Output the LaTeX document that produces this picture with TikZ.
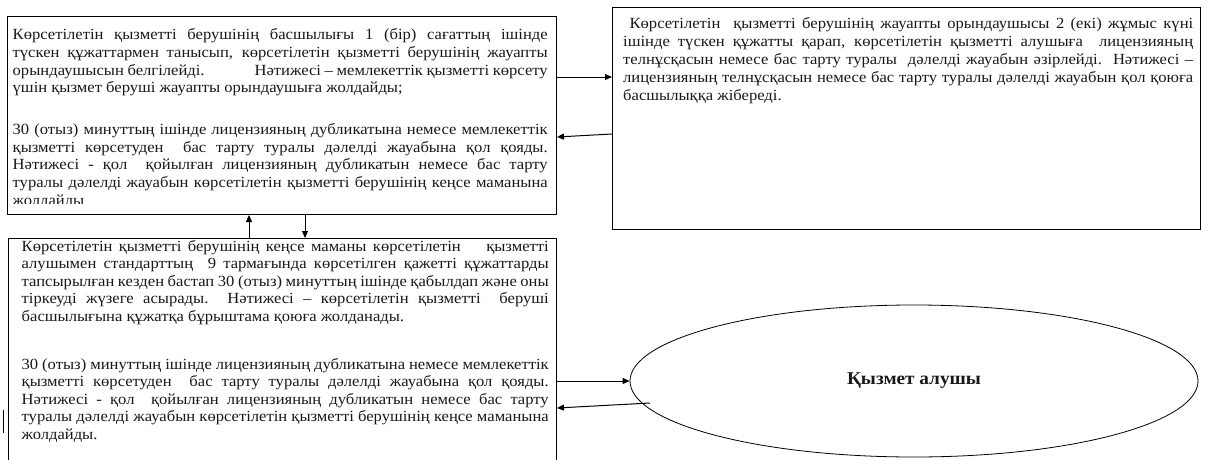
\documentclass[tikz,border=0pt]{standalone}
\usepackage{fontspec}
\usepackage{tikz}
\usetikzlibrary{arrows.meta,shapes.geometric}
\newfontfamily\kzbase{Liberation Serif}
\newlength\kzw
\settowidth\kzw{\kzbase\fontsize{15.5}{17}\selectfont үшін қызмет беруші жауапты орындаушыға жолдайды;}
\pgfmathsetmacro\kzs{390/\kzw}
\edef\kzdef{\noexpand\newfontfamily\noexpand\kz[FakeStretch=\kzs]{Liberation Serif}}
\kzdef
\tikzset{
  box/.style={draw=black, line width=1pt, anchor=north west, inner sep=0pt},
  arr/.style={-{Triangle[length=7pt,width=6pt]}, line width=1pt},
  txt/.style={anchor=base west, inner sep=0pt, text=black!90, font=\kz\fontsize{15.5}{17}\selectfont},
  lbl/.style={text=black!90, font=\kz\bfseries\fontsize{18}{20}\selectfont},
}
\newcommand\kzj[4]{\node[txt] (#1) at (#2) {\makebox[#3][s]{#4}};}
\newcommand\kzl[3]{\node[txt] (#1) at (#2) {#3};}
\begin{document}
\begin{tikzpicture}[x=1pt,y=-1pt]
\useasboundingbox (0,0) rectangle (1209,460);
% boxes
\node[box, minimum width=549pt, minimum height=198pt] (b1) at (7,16) {};
\node[box, minimum width=588pt, minimum height=222pt] (b2) at (612,7) {};
\node[box, minimum width=548pt, minimum height=240pt] (b3) at (8,238) {};
\node[draw=black, line width=0.8pt, ellipse, minimum width=568pt, minimum height=152pt, inner sep=0pt] (ell) at (914,381) {};
\node[lbl] (elltext) at (ell.center) {Қызмет алушы};
% box 1 text
\begin{scope}
\clip (7,16) rectangle (556,203);
\kzj{a1}{12.5,40}{535pt}{Көрсетілетін қызметті берушінің басшылығы 1 (бір) сағаттың ішінде}
\kzj{a2}{12.5,57.5}{535pt}{түскен құжаттармен танысып, көрсетілетін қызметті берушінің жауапты}
\kzj{a3}{12.5,75}{535pt}{орындаушысын белгілейді.\hspace{50pt}Нәтижесі – мемлекеттік қызметті көрсету}
\kzl{a4}{12.5,92.5}{үшін қызмет беруші жауапты орындаушыға жолдайды;}
\kzj{a5}{12.5,134.5}{535pt}{30 (отыз) минуттың ішінде лицензияның дубликатына немесе мемлекеттік}
\kzj{a6}{12.5,152}{535pt}{қызметті көрсетуден\ \ бас тарту туралы дәлелді жауабына қол қояды.}
\kzj{a7}{12.5,169.5}{535pt}{Нәтижесі - қол\ \ қойылған лицензияның дубликатын немесе бас тарту}
\kzj{a8}{12.5,187}{535pt}{туралы дәлелді жауабын көрсетілетін қызметті берушінің кеңсе маманына}
\kzl{a9}{12.5,205}{жолдайды}
\end{scope}
% box 2 text
\kzj{c1}{623,28.5}{570pt}{\ Көрсетілетін\ \ қызметті берушінің жауапты орындаушысы 2 (екі) жұмыс күні}
\kzj{c2}{623,46.5}{570pt}{ішінде түскен құжатты қарап, көрсетілетін қызметті алушыға\ \ лицензияның}
\kzj{c3}{623,64.5}{570pt}{телнұсқасын немесе бас тарту туралы\ \ дәлелді жауабын әзірлейді.\ \ Нәтижесі –}
\kzj{c4}{623,82.5}{570pt}{лицензияның телнұсқасын немесе бас тарту туралы дәлелді жауабын қол қоюға}
\kzl{c5}{623,100.5}{басшылыққа жібереді.}
% box 3 text
\kzj{d1}{21.5,251}{527pt}{Көрсетілетін қызметті берушінің кеңсе маманы көрсетілетін\ \ \ \ қызметті}
\kzj{d2}{21.5,268.5}{527pt}{алушымен стандарттың\ \ 9 тармағында көрсетілген қажетті құжаттарды}
\kzj{d3}{21.5,286}{527pt}{тапсырылған кезден бастап 30 (отыз) минуттың ішінде қабылдап және оны}
\kzj{d4}{21.5,303.5}{527pt}{тіркеуді жүзеге асырады.\ \ Нәтижесі – көрсетілетін қызметті\ \ беруші}
\kzl{d5}{21.5,321}{басшылығына құжатқа бұрыштама қоюға жолданады.}
\kzj{d6}{21.5,369}{527pt}{30 (отыз) минуттың ішінде лицензияның дубликатына немесе мемлекеттік}
\kzj{d7}{21.5,386.5}{527pt}{қызметті көрсетуден\ \ бас тарту туралы дәлелді жауабына қол қояды.}
\kzj{d8}{21.5,404}{527pt}{Нәтижесі - қол\ \ қойылған лицензияның дубликатын немесе бас тарту}
\kzj{d9}{21.5,421.5}{527pt}{туралы дәлелді жауабын көрсетілетін қызметті берушінің кеңсе маманына}
\kzl{d10}{21.5,439}{жолдайды.}
% helper coordinates
\coordinate (y1) at (0,77);
\coordinate (y2s) at (0,134);
\coordinate (y2e) at (0,137);
\coordinate (xu) at (249,0);
\coordinate (xd) at (305,0);
\coordinate (fs) at (650,403);
\coordinate (y6) at (0,408);
% connectors
\draw[arr] (b1.east |- y1) -- (b2.west |- y1);
\draw[arr] (b2.west |- y2s) -- (b1.east |- y2e);
\draw[arr] (xu |- b3.north) -- (xu |- b1.south);
\draw[arr] (xd |- b1.south) -- (xd |- b3.north);
\draw[arr] (b3.east |- ell.west) -- (ell.west);
\draw[arr] (fs) -- (b3.east |- y6);
% stray mark
\coordinate (m1) at (3,410);
\coordinate (m2) at (3,433);
\draw[line width=1pt] (m1) -- (m2);
\end{tikzpicture}
\end{document}
